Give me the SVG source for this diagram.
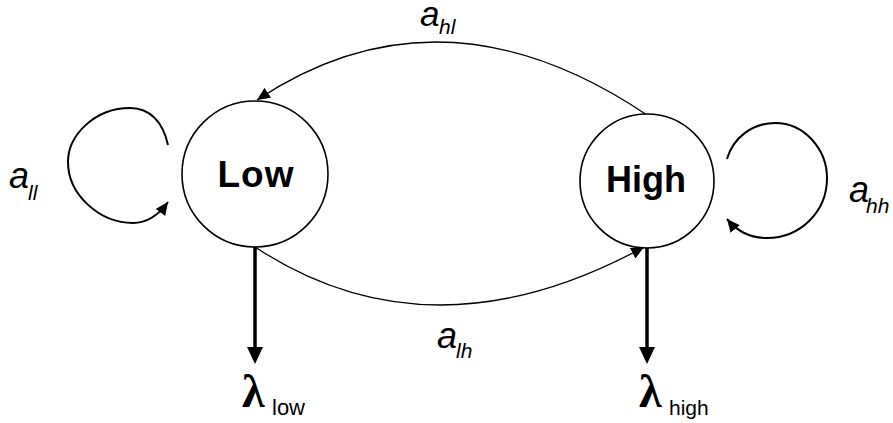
<svg xmlns="http://www.w3.org/2000/svg" width="893" height="423" viewBox="0 0 893 423">
<style>
.node{fill:#fff;stroke:#000;stroke-width:1.6}
.lbl{font-family:"Liberation Sans",Arial,sans-serif;font-weight:bold;text-anchor:middle;fill:#000}
.a{font-family:"Liberation Sans",Arial,sans-serif;font-style:italic;fill:#000}
.lam{font-family:"Liberation Serif","Times New Roman",serif;font-weight:bold;fill:#000}
.sub{font-family:"Liberation Sans",Arial,sans-serif;fill:#000}
.loop{fill:none;stroke:#000;stroke-width:2}
.arc{fill:none;stroke:#000;stroke-width:1.3}
.out{fill:none;stroke:#000;stroke-width:3.5}
</style>
<defs>
<marker id="ah" markerUnits="userSpaceOnUse" markerWidth="14" markerHeight="12" refX="13" refY="6" orient="auto" viewBox="0 0 14 12">
<path d="M0,0 L13,6 L0,12 z" fill="#000"/>
</marker>
<marker id="ahb" markerUnits="userSpaceOnUse" markerWidth="18" markerHeight="16" refX="0" refY="8" orient="auto" viewBox="0 0 18 16">
<path d="M0,0 L17,8 L0,16 z" fill="#000"/>
</marker>
</defs>
<g id="connectors">
<path class="loop" d="M168,145 C163,122 150,108 130,108 C95,108 68,135 68,162 C68,195 100,223 133,223 C148,223 160,213 168,202" marker-end="url(#ah)"/>
<path class="loop" d="M727,159 C733,138 752,123 775,123 C805,123 827,150 827,178 C827,212 800,238 767,238 C750,238 736,230 727,219" marker-end="url(#ah)"/>
<path class="arc" d="M647,115 Q442,-23 257,100" marker-end="url(#ah)"/>
<path class="arc" d="M255,247 Q431,363 644,247" marker-end="url(#ah)"/>
<path class="out" d="M255,247 L255,347" marker-end="url(#ahb)"/>
<path class="out" d="M647,247 L647,347" marker-end="url(#ahb)"/>
</g>
<g id="low">
<circle class="node" cx="255" cy="174" r="73"/>
<text class="lbl" x="256" y="187" font-size="37" letter-spacing="1">Low</text>
</g>
<g id="high">
<circle class="node" cx="647" cy="181" r="67"/>
<text class="lbl" x="646" y="192" font-size="36">High</text>
</g>
<g id="labels">
<text class="a" x="9" y="188" font-size="36">a</text>
<text class="a" x="28" y="200" font-size="21">ll</text>
<text class="a" x="849" y="202" font-size="36">a</text>
<text class="a" x="866" y="213" font-size="21">hh</text>
<text class="a" x="420" y="26" font-size="35">a</text>
<text class="a" x="439" y="34" font-size="21">hl</text>
<text class="a" x="437" y="348" font-size="36">a</text>
<text class="a" x="456" y="358" font-size="21">lh</text>
<text class="lam" x="242" y="407" font-size="46">λ</text>
<text class="sub" x="272" y="415" font-size="22">low</text>
<text class="lam" x="639" y="407" font-size="46">λ</text>
<text class="sub" x="669" y="415" font-size="21">high</text>
</g>
</svg>
